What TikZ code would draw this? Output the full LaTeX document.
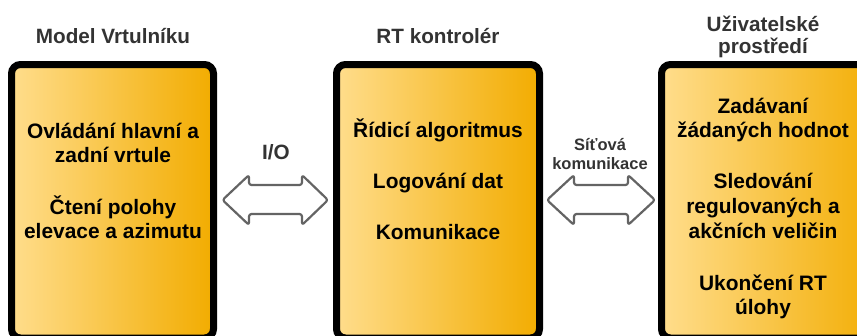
\documentclass[tikz,border=0pt]{standalone}
\usepackage{fontspec}
\setmainfont{Liberation Sans}
\begin{document}
\begin{tikzpicture}[x=1pt,y=-1pt,
  panel/.style={line width=7pt, rounded corners=9pt, left color=panelL, right color=panelR},
  boxtxt/.style={anchor=base, inner sep=0pt, font=\fontsize{20.9}{24}\selectfont\bfseries, text=black},
  headtxt/.style={anchor=base, inner sep=0pt, font=\fontsize{20.7}{24}\selectfont\bfseries, text=hdgray},
  smalltxt/.style={anchor=base, inner sep=0pt, font=\fontsize{16.5}{20}\selectfont\bfseries, text=hdgray},
  dblarrow/.style={draw=arrgray, fill=white, line width=2.2pt, rounded corners=2.5pt, line join=round}]
\definecolor{panelL}{RGB}{255,221,140}
\definecolor{panelR}{RGB}{242,172,0}
\definecolor{hdgray}{RGB}{51,51,51}
\definecolor{arrgray}{RGB}{100,100,100}
\useasboundingbox (0,0) rectangle (857,335);
\clip (0,0) rectangle (857,335);

% panels
\path[panel,draw=black] (11.5,64.5) rectangle (213.5,338);
\path[panel,draw=black] (336.5,64.5) rectangle (539.5,338);
\path[panel,draw=black] (661.5,64.5) rectangle (885,338);

% headers
\node[headtxt] (h1) at (113,43.3) {Model Vrtulníku};
\node[headtxt] (h2) at (438,43.3) {RT kontrolér};
\node[headtxt] (h3a) at (763,31.5) {Uživatelské};
\node[headtxt] (h3b) at (763,53.5) {prostředí};

% left box text
\node[boxtxt] (l1) at (113,138) {Ovládání hlavní a};
\node[boxtxt] (l2) at (113,162) {zadní vrtule};
\node[boxtxt] (l3) at (113,214) {Čtení polohy};
\node[boxtxt] (l4) at (113,238.5) {elevace a azimutu};

% middle box text
\node[boxtxt] (m1) at (438,137.5) {Řídicí algoritmus};
\node[boxtxt] (m2) at (438,188.5) {Logování dat};
\node[boxtxt] (m3) at (438,239.5) {Komunikace};

% right box text
\node[boxtxt] (r1) at (763,113) {Zadávaní};
\node[boxtxt] (r2) at (763,137.5) {žádaných hodnot};
\node[boxtxt] (r3) at (763,188) {Sledování};
\node[boxtxt] (r4) at (763,213) {regulovaných a};
\node[boxtxt] (r5) at (763,238) {akčních veličin};
\node[boxtxt] (r6) at (763,290) {Ukončení RT};
\node[boxtxt] (r7) at (763,314) {úlohy};

% arrow labels
\node[headtxt] (io) at (276,159) {I/O};
\node[smalltxt] (s1) at (600,150) {Síťová};
\node[smalltxt] (s2) at (600,169.5) {komunikace};

% double arrows
\draw[dblarrow] (222.5,200) -- (249,175) -- (249,185) -- (302,185) -- (302,175) -- (328,200)
  -- (302,225) -- (302,214) -- (249,214) -- (249,225) -- cycle;
\draw[dblarrow] (547,200) -- (574,175) -- (574,185) -- (628,185) -- (628,175) -- (655,200)
  -- (628,225) -- (628,214) -- (574,214) -- (574,225) -- cycle;
\end{tikzpicture}
\end{document}
